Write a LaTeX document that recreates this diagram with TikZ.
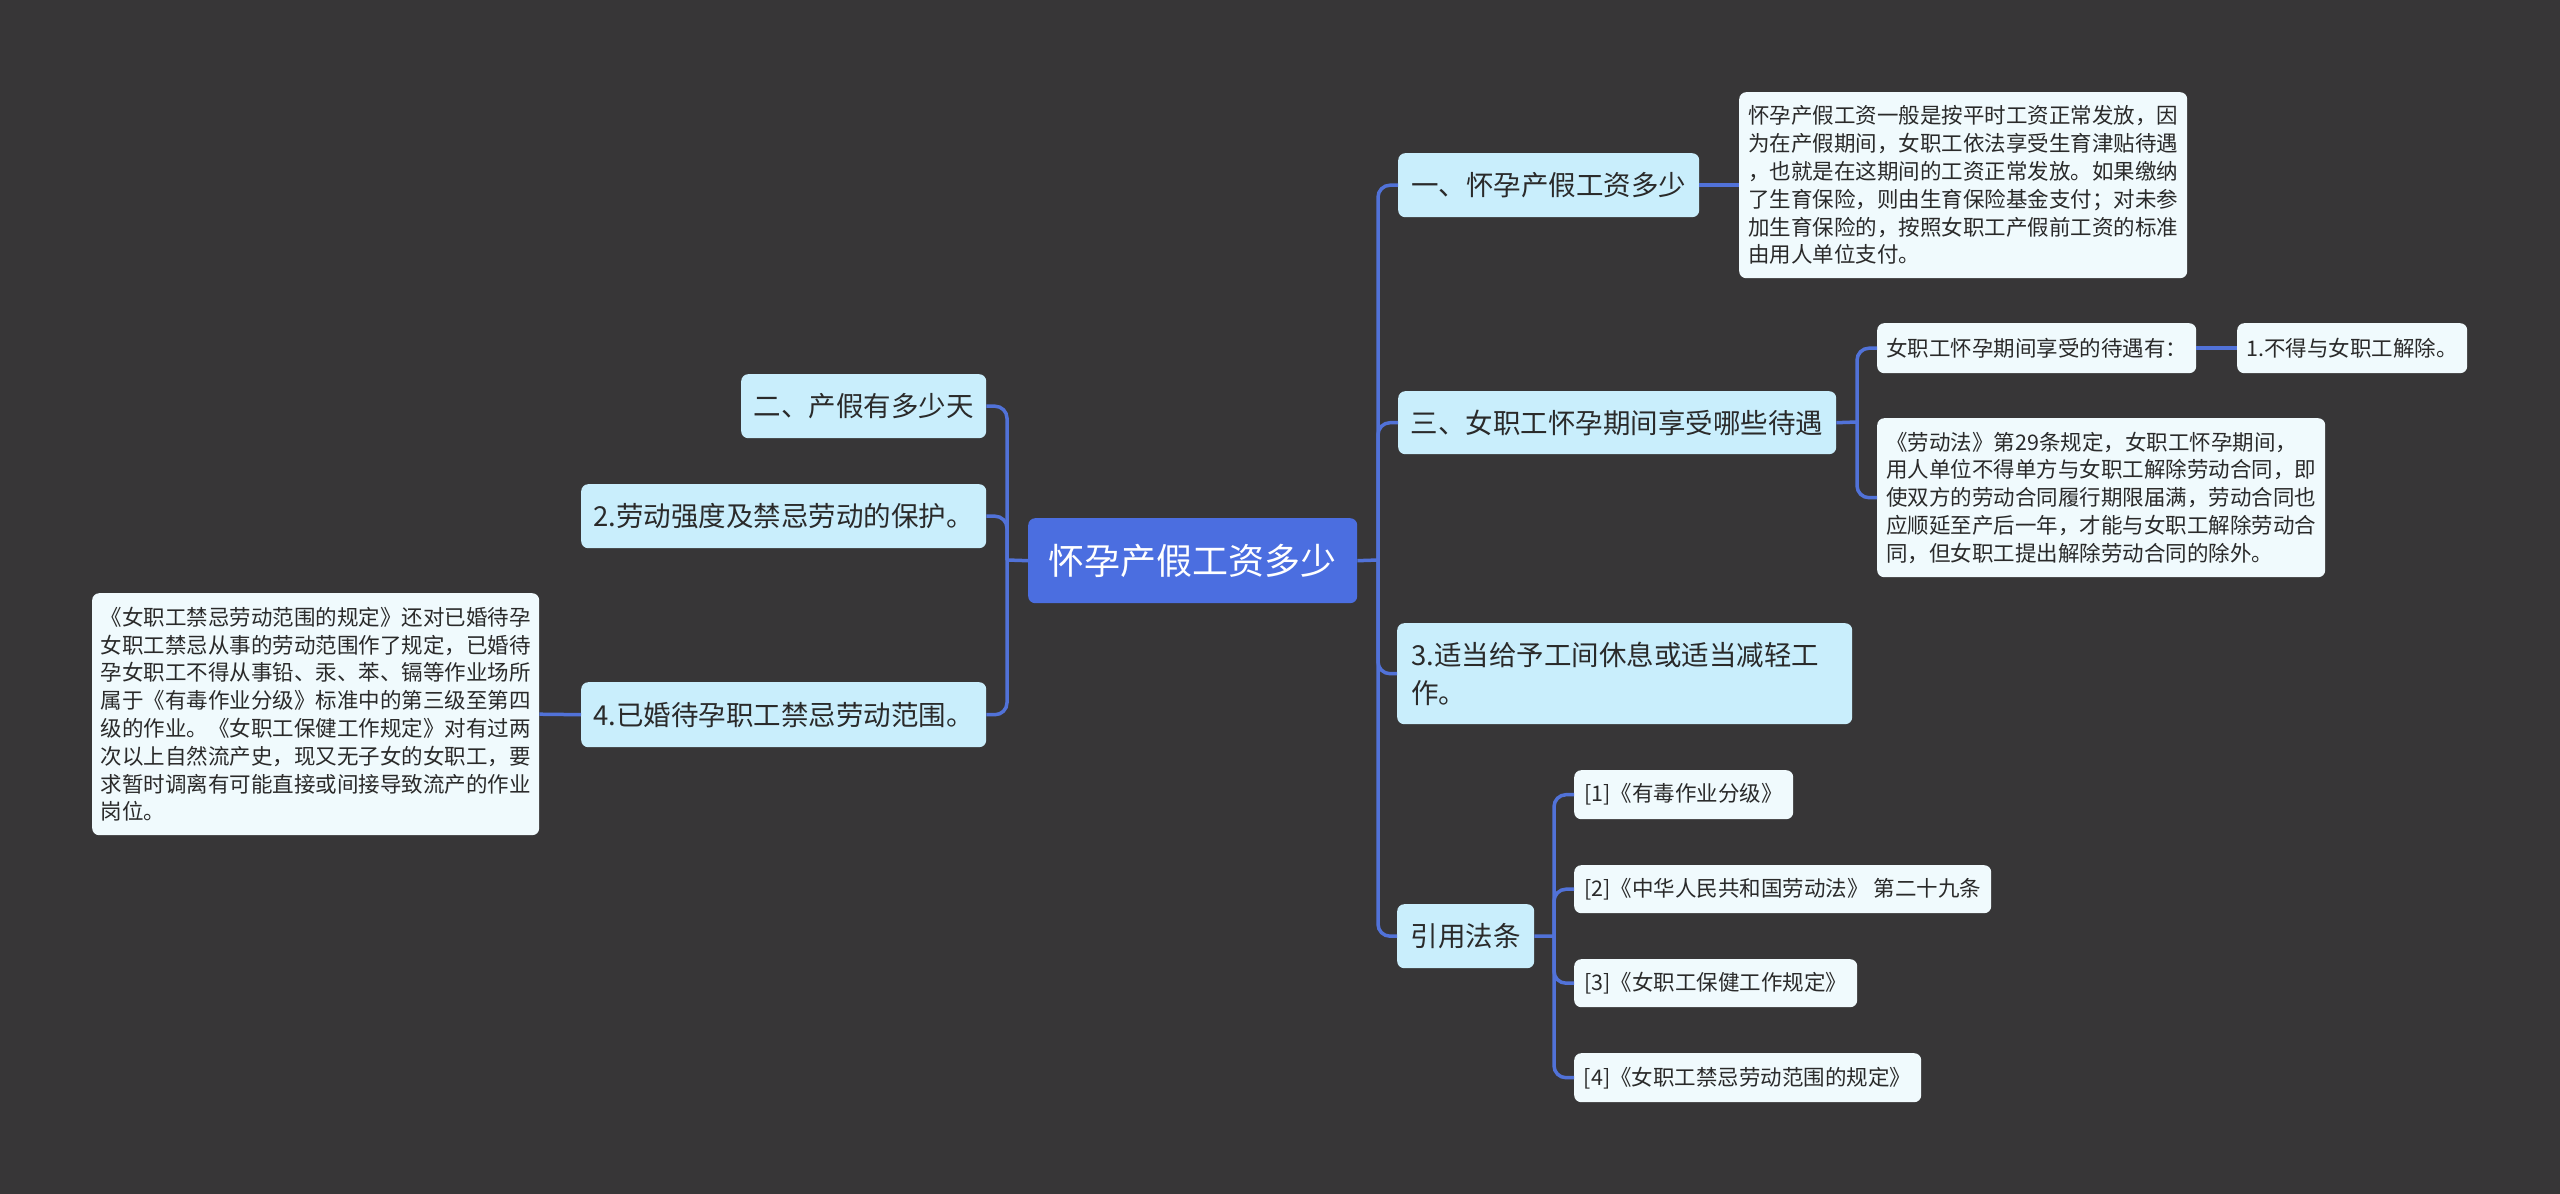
\documentclass[tikz,border=0pt]{standalone}
\usepackage{fontspec}
\newfontfamily\cjk{Noto Sans CJK SC}
\definecolor{bg}{HTML}{373637}
\definecolor{rootfill}{HTML}{4B6EE0}
\definecolor{conncol}{HTML}{5172D8}
\definecolor{lonefill}{HTML}{C9EEFC}
\definecolor{leaffill}{HTML}{F0FAFD}
\definecolor{txt}{HTML}{2A2A2A}
\tikzset{
  box/.style={rounded corners=7pt, anchor=north west, align=left, inner sep=0pt, text=txt},
  lvl/.style={box, fill=lonefill, font=\cjk\fontsize{27.5}{38}\selectfont},
  leafbox/.style={box, fill=leaffill, font=\cjk\fontsize{21.5}{27.8}\selectfont},
  rootbox/.style={box, fill=rootfill, text=white, align=center, font=\cjk\fontsize{36}{44}\selectfont},
  conn/.style={draw=conncol, line width=3.5pt, rounded corners=12pt},
}
\begin{document}
\begin{tikzpicture}[x=1pt,y=-1pt]
\path[fill=bg,use as bounding box] (0,0) rectangle (2560,1194);

% root
\node[rootbox, minimum width=329, minimum height=85] (root) at (1028,518) {怀孕产假工资多少};

% left branch
\node[lvl, minimum width=245, minimum height=64] (n2) at (741,374) {二、产假有多少天};
\node[lvl, minimum width=405, minimum height=64] (n2b) at (581,484) {2.劳动强度及禁忌劳动的保护。};
\node[lvl, minimum width=405, minimum height=65] (n4) at (581,682) {4.已婚待孕职工禁忌劳动范围。};
\node[leafbox, minimum width=447, minimum height=242] (lleaf) at (92,593) {《女职工禁忌劳动范围的规定》还对已婚待孕\\女职工禁忌从事的劳动范围作了规定，已婚待\\孕女职工不得从事铅、汞、苯、镉等作业场所\\属于《有毒作业分级》标准中的第三级至第四\\级的作业。《女职工保健工作规定》对有过两\\次以上自然流产史，现又无子女的女职工，要\\求暂时调离有可能直接或间接导致流产的作业\\岗位。};

% right branch
\node[lvl, minimum width=301, minimum height=64] (n1) at (1398,153) {一、怀孕产假工资多少};
\node[leafbox, minimum width=448, minimum height=186] (leaf1) at (1739,92) {怀孕产假工资一般是按平时工资正常发放，因\\为在产假期间，女职工依法享受生育津贴待遇\\，也就是在这期间的工资正常发放。如果缴纳\\了生育保险，则由生育保险基金支付；对未参\\加生育保险的，按照女职工产假前工资的标准\\由用人单位支付。};
\node[lvl, minimum width=438, minimum height=63] (n3) at (1398,391) {三、女职工怀孕期间享受哪些待遇};
\node[leafbox, minimum width=319, minimum height=50] (l31) at (1877,323) {女职工怀孕期间享受的待遇有：};
\node[leafbox, minimum width=230, minimum height=50] (l31a) at (2237,323) {1.不得与女职工解除。};
\node[leafbox, minimum width=448, minimum height=159] (l32) at (1877,418) {《劳动法》第29条规定，女职工怀孕期间，\\用人单位不得单方与女职工解除劳动合同，即\\使双方的劳动合同履行期限届满，劳动合同也\\应顺延至产后一年，才能与女职工解除劳动合\\同，但女职工提出解除劳动合同的除外。};
\node[lvl, text width=427, inner xsep=14, minimum height=101] (n5) at (1397,623) {3.适当给予工间休息或适当减轻工\\作。};
\node[lvl, minimum width=137, minimum height=64] (ref) at (1397,904) {引用法条};
\node[leafbox, minimum width=219, minimum height=49] (r1) at (1574,770) {[1]《有毒作业分级》};
\node[leafbox, minimum width=417, minimum height=48] (r2) at (1574,865) {[2]《中华人民共和国劳动法》 第二十九条};
\node[leafbox, minimum width=283, minimum height=48] (r3) at (1574,959) {[3]《女职工保健工作规定》};
\node[leafbox, minimum width=347, minimum height=49] (r4) at (1574,1053) {[4]《女职工禁忌劳动范围的规定》};

% trunk coordinates
\coordinate (LT) at (1007,560);
\coordinate (RT) at (1378,560);
\coordinate (S3) at (1857,422);
\coordinate (S4) at (1554,936);

% connectors
\draw[conn] (root.west) -- (LT);
\draw[conn] (LT) |- (n2.east);
\draw[conn] (LT) |- (n2b.east);
\draw[conn] (LT) |- (n4.east);
\draw[conn] (n4.west) -- (lleaf.east);

\draw[conn] (root.east) -- (RT);
\draw[conn] (RT) |- (n1.west);
\draw[conn] (RT) |- (n3.west);
\draw[conn] (RT) |- (n5.west);
\draw[conn] (RT) |- (ref.west);
\draw[conn] (n1.east) -- (leaf1.west);
\draw[conn] (n3.east) -- (S3);
\draw[conn] (S3) |- (l31.west);
\draw[conn] (S3) |- (l32.west);
\draw[conn] (l31.east) -- (l31a.west);
\draw[conn] (ref.east) -- (S4);
\draw[conn] (S4) |- (r1.west);
\draw[conn] (S4) |- (r2.west);
\draw[conn] (S4) |- (r3.west);
\draw[conn] (S4) |- (r4.west);
\end{tikzpicture}
\end{document}
